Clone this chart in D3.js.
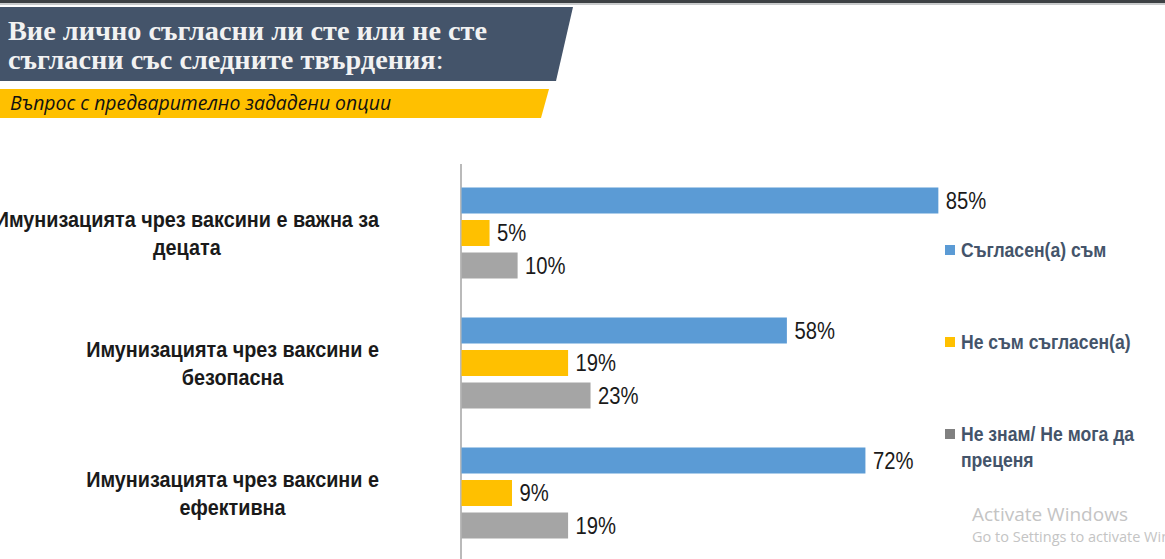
<!DOCTYPE html>
<html><head><meta charset="utf-8">
<script src="https://cdn.jsdelivr.net/npm/d3@7"></script>
<style>
html,body{margin:0;padding:0;background:#fff;}
svg{display:block;}
</style></head>
<body>
<svg id="c" width="1165" height="559"></svg>
<script>
// ---- data ----
const titleLines = ["Вие лично съгласни ли сте или не сте", "съгласни със следните твърдения"];
const titleEnd = ":";
const subtitle = "Въпрос с предварително зададени опции";
const categories = ["важна за децата", "безопасна", "ефективна"];
const categoryLines = [
  ["Имунизацията чрез ваксини е важна за", "децата"],
  ["Имунизацията чрез ваксини е", "безопасна"],
  ["Имунизацията чрез ваксини е", "ефективна"]
];
const series = ["Съгласен(а) съм", "Не съм съгласен(а)", "Не знам/ Не мога да преценя"];
const legendLines = [["Съгласен(а) съм"], ["Не съм съгласен(а)"], ["Не знам/ Не мога да", "преценя"]];
const agree = [85, 58, 72];
const disagree = [5, 19, 9];
const dontKnow = [10, 23, 19];
const watermark = ["Activate Windows", "Go to Settings to activate Windows."];

const colors = ["#5b9bd5", "#ffc000", "#a5a5a5"];
const legendColors = ["#5b9bd5", "#ffc000", "#808080"];
const values = [agree, disagree, dontKnow];

const svg = d3.select("#c");
const W = 1165, H = 559;
const NX = 0.88; // horizontal condensing to mimic a narrow face
const labelFont = "'Liberation Sans',Arial,sans-serif";

// top dark strip
svg.append("rect").attr("x",0).attr("y",0).attr("width",W).attr("height",3).attr("fill","#3d4144");
svg.append("rect").attr("x",0).attr("y",3).attr("width",W).attr("height",2).attr("fill","#c9cbcc");

// title banner
svg.append("path").attr("d","M0,7 L573,7 L556,81 L0,81 Z").attr("fill","#44546a");
const tt = svg.append("text").attr("fill","#f2f2f2")
  .style("font-family","'Liberation Serif','DejaVu Serif',serif").style("font-weight","bold").style("font-size","28.3px");
tt.selectAll("tspan.l").data(titleLines).join("tspan").attr("class","l")
  .attr("x",8).attr("y",(d,i)=>40+i*29).text(d=>d);
tt.append("tspan").style("font-weight","normal").text(titleEnd);

// subtitle band
svg.append("path").attr("d","M0,89 L549,89 L541,118 L0,118 Z").attr("fill","#ffc000");
svg.append("text").attr("x",10).attr("y",110).attr("fill","#111")
  .style("font-family","'Open Sans','Noto Sans',sans-serif").style("font-style","italic").style("font-size","19.4px")
  .text(subtitle);

// scales
const x = d3.scaleLinear().domain([0,100]).range([461,1022]);
const y0 = d3.scaleBand().domain(categories).range([168,558]).padding(0);
const y1 = d3.scaleBand().domain(series).range([0,y0.bandwidth()]).paddingInner(0.2).paddingOuter(0.6);

// axis line
svg.append("line").attr("x1",x(0)).attr("x2",x(0)).attr("y1",y0.range()[0]-4).attr("y2",H)
  .attr("stroke","#8c8c8c").attr("stroke-width",1.2);

// bars
const g = svg.append("g");
categories.forEach((c,ci)=>{
  series.forEach((s,si)=>{
    const v = values[si][ci];
    const yy = y0(c)+y1(s);
    g.append("rect").attr("x",x(0)+0.5).attr("y",yy).attr("width",x(v)-x(0)).attr("height",y1.bandwidth())
      .attr("fill",colors[si]);
    g.append("g").attr("transform",`translate(${x(v)+8},${yy+y1.bandwidth()/2}) scale(${NX},1)`)
      .append("text").attr("x",0).attr("y",0).attr("dy","0.36em")
      .attr("fill","#1a1a1a").style("font-family",labelFont).style("font-size","23px")
      .text(v+"%");
  });
});

// category labels: block right-aligned at 379, lines centered
categories.forEach((c,ci)=>{
  const lines = categoryLines[ci];
  const cy = y0(c)+y0.bandwidth()/2;
  const gg = svg.append("g");
  const t = gg.append("text").attr("fill","#1a1a1a").attr("text-anchor","middle")
    .style("font-family",labelFont).style("font-weight","bold").style("font-size","22.5px");
  const ts = t.selectAll("tspan").data(lines).join("tspan")
    .attr("x",0).attr("y",(d,i)=>(i-(lines.length-1)/2)*28).attr("dy","0.36em").text(d=>d);
  let wmax = 0; ts.each(function(){ wmax = Math.max(wmax,this.getComputedTextLength()); });
  gg.attr("transform",`translate(${379-wmax*NX/2},${cy}) scale(${NX},1)`);
});

// legend
const ly = d3.scalePoint().domain(series).range([250,434]);
series.forEach((s,si)=>{
  const yy = ly(s);
  svg.append("rect").attr("x",945).attr("y",yy-5).attr("width",10).attr("height",10).attr("fill",legendColors[si]);
  const t = svg.append("g").attr("transform",`translate(961,${yy}) scale(${NX},1)`)
    .append("text").attr("fill","#44546a")
    .style("font-family",labelFont).style("font-weight","bold").style("font-size","20px");
  t.selectAll("tspan").data(legendLines[si]).join("tspan")
    .attr("x",0).attr("y",(d,i)=>i*26).attr("dy","0.36em").text(d=>d);
});

// watermark
svg.append("text").attr("x",972).attr("y",521).attr("fill","#c4c4c4")
  .style("font-family","'Open Sans','Noto Sans',sans-serif").style("font-size","19px").text(watermark[0]);
svg.append("text").attr("x",972).attr("y",542).attr("fill","#c4c4c4")
  .style("font-family","'Open Sans','Noto Sans',sans-serif").style("font-size","14.5px").text(watermark[1]);
</script>
</body></html>
